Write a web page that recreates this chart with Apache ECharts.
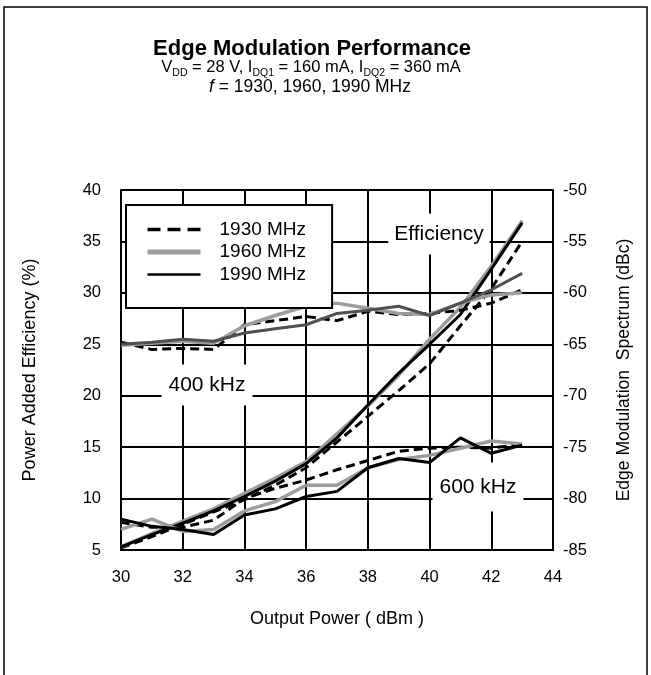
<!DOCTYPE html>
<html>
<head>
<meta charset="utf-8">
<script src="https://cdn.jsdelivr.net/npm/echarts@6/dist/echarts.min.js"></script>
<style>
html,body{margin:0;padding:0;background:#fff;}
#chart{width:651px;height:675px;}
</style>
</head>
<body>
<div id="chart"></div>
<script>
// ---- data ----
const outputPower = [30, 31, 32, 33, 34, 35, 36, 37, 38, 39, 40, 41, 42, 43];
const frequencies = ['1930 MHz', '1960 MHz', '1990 MHz'];
// Power Added Efficiency (%)
const eff1930 = [5.2, 6.3, 7.5, 8.7, 9.9, 11.3, 13.0, 15.5, 18.0, 20.5, 23.1, 26.8, 30.4, 35.0];
const eff1960 = [5.3, 6.6, 7.8, 9.0, 10.5, 12.0, 13.6, 16.3, 19.0, 22.0, 25.5, 28.6, 32.6, 37.0];
const eff1990 = [5.3, 6.5, 7.6, 8.8, 10.2, 11.7, 13.4, 15.9, 19.1, 22.2, 25.0, 27.9, 32.3, 36.8];
// Edge modulation spectrum, 400 kHz offset (dBc)
const s400_1930 = [-64.8, -65.5, -65.4, -65.5, -63.1, -62.7, -62.3, -62.7, -61.8, -62.1, -62.0, -61.7, -61.0, -59.7];
const s400_1960 = [-65.1, -64.9, -64.7, -64.9, -63.2, -62.2, -61.3, -61.0, -61.5, -62.0, -62.1, -61.0, -60.2, -60.0];
const s400_1990 = [-65.0, -64.8, -64.5, -64.7, -63.9, -63.5, -63.1, -62.0, -61.7, -61.3, -62.2, -61.0, -59.7, -58.1];
// Edge modulation spectrum, 600 kHz offset (dBc)
const s600_1930 = [-82.3, -82.8, -82.8, -82.1, -80.0, -79.0, -78.2, -77.2, -76.3, -75.4, -75.1, -75.0, -75.1, -74.7];
const s600_1960 = [-83.0, -82.0, -83.2, -83.0, -81.2, -80.3, -78.7, -78.7, -77.0, -76.2, -75.8, -75.1, -74.4, -74.7];
const s600_1990 = [-82.0, -82.7, -83.0, -83.5, -81.6, -81.0, -79.8, -79.3, -77.0, -76.1, -76.5, -74.1, -75.6, -74.8];

const xTickMin = 30, xTickMax = 44, xTickStep = 2;
const leftMin = 5, leftMax = 40, leftStep = 5;
const rightMin = -85, rightMax = -50, rightStep = 5;

// ---- chart ----
const pairs = (vals) => outputPower.map((x, i) => [x, vals[i]]);
const FONT = '"Liberation Sans", Arial, sans-serif';
const styles = {
  '1930 MHz': { color: '#000000', width: 3, type: [9, 5] },
  '1960 MHz': { color: '#9c9c9c', width: 3.5, type: 'solid' },
  '1990 MHz': { color: '#000000', width: 3, type: 'solid' }
};
function mk(name, vals, axis, override) {
  const ls = Object.assign({}, styles[name], override || {});
  return {
    name: name, type: 'line', yAxisIndex: axis, data: pairs(vals),
    symbol: 'none', smooth: false, silent: true, animation: false,
    lineStyle: { color: ls.color, width: ls.width, type: ls.type },
    itemStyle: { color: ls.color }
  };
}

const chart = echarts.init(document.getElementById('chart'), null, { renderer: 'canvas' });
chart.setOption({
  animation: false,
  backgroundColor: '#ffffff',
  textStyle: { fontFamily: FONT },
  title: [
    { text: 'Edge Modulation Performance', left: 307, top: 33, textAlign: 'center',
      textStyle: { fontFamily: FONT, fontSize: 22, fontWeight: 'bold', color: '#000' } },
    { text: '{n|V}{s|DD}{n| = 28 V, I}{s|DQ1}{n| = 160 mA, I}{s|DQ2}{n| = 360 mA}', left: 306, top: 54, textAlign: 'center',
      textStyle: { fontFamily: FONT, fontSize: 16.5, color: '#000', fontWeight: 'normal',
        rich: {
          n: { fontFamily: FONT, fontSize: 16.5, color: '#000', lineHeight: 20, verticalAlign: 'top' },
          s: { fontFamily: FONT, fontSize: 10.5, color: '#000', lineHeight: 20, padding: [9, 0, 0, 0], verticalAlign: 'top' }
        } } },
    { text: '{i|f}{n| = 1930, 1960, 1990 MHz}', left: 305, top: 73, textAlign: 'center',
      textStyle: { fontFamily: FONT, fontSize: 17.5, color: '#000', fontWeight: 'normal',
        rich: {
          n: { fontFamily: FONT, fontSize: 17.5, color: '#000' },
          i: { fontFamily: FONT, fontSize: 17.5, color: '#000', fontStyle: 'italic' }
        } } }
  ],
  legend: {
    data: [
      { name: frequencies[0], lineStyle: { type: [13, 7], width: 3.5 } },
      { name: frequencies[1], lineStyle: { width: 5 } },
      { name: frequencies[2], lineStyle: { width: 2.5 } }
    ],
    orient: 'vertical', left: 126, top: 205,
    backgroundColor: '#ffffff', borderColor: '#000', borderWidth: 2,
    padding: [15, 26, 24, 19],
    itemWidth: 53, itemHeight: 16, itemGap: 3.5,
    itemStyle: { opacity: 0 },
    textStyle: { fontFamily: FONT, fontSize: 19, lineHeight: 16, color: '#000', padding: [0, 0, 0, 14] },
    selectedMode: false
  },
  grid: { left: 121, top: 190, width: 432, height: 360, containLabel: false },
  xAxis: {
    type: 'value', min: xTickMin, max: xTickMax, interval: xTickStep,
    name: 'Output Power ( dBm )', nameLocation: 'middle', nameGap: 60,
    nameTextStyle: { fontFamily: FONT, fontSize: 18, color: '#000' },
    axisLine: { lineStyle: { color: '#000', width: 2 } },
    axisTick: { show: false },
    axisLabel: { fontFamily: FONT, fontSize: 16.5, color: '#000', margin: 19 },
    splitLine: { show: true, lineStyle: { color: '#000', width: 2 } }
  },
  yAxis: [
    { type: 'value', min: leftMin, max: leftMax, interval: leftStep, position: 'left',
      name: 'Power Added Efficiency (%)', nameLocation: 'middle', nameGap: 82, nameRotate: 90,
      nameTextStyle: { fontFamily: FONT, fontSize: 18, color: '#000' },
      axisLine: { show: true, lineStyle: { color: '#000', width: 2 } },
      axisTick: { show: false },
      axisLabel: { fontFamily: FONT, fontSize: 16.5, color: '#000', margin: 20 },
      splitLine: { show: true, lineStyle: { color: '#000', width: 2 } } },
    { type: 'value', min: rightMin, max: rightMax, interval: rightStep, position: 'right',
      name: 'Edge Modulation  Spectrum (dBc)', nameLocation: 'middle', nameGap: 62, nameRotate: 90,
      nameTextStyle: { fontFamily: FONT, fontSize: 17.5, color: '#000' },
      axisLine: { show: true, lineStyle: { color: '#000', width: 2 } },
      axisTick: { show: false },
      axisLabel: { fontFamily: FONT, fontSize: 16.5, color: '#000', margin: 10 },
      splitLine: { show: false } }
  ],
  series: [
    mk('1930 MHz', eff1930, 0),
    mk('1960 MHz', eff1960, 0),
    mk('1990 MHz', eff1990, 0),
    mk('1930 MHz', s400_1930, 1),
    mk('1960 MHz', s400_1960, 1),
    mk('1990 MHz', s400_1990, 1, { color: '#505050' }),
    mk('1930 MHz', s600_1930, 1),
    mk('1960 MHz', s600_1960, 1),
    mk('1990 MHz', s600_1990, 1)
  ],
  graphic: [
    { type: 'rect', silent: true, z: 100, shape: { x: 4, y: 7, width: 643, height: 700 },
      style: { fill: 'none', stroke: '#000', lineWidth: 1.5 } },
    { type: 'text', silent: true, z: 50, x: 439, y: 234,
      style: { text: 'Efficiency', fontFamily: FONT, fontSize: 21, fill: '#000', align: 'center', verticalAlign: 'middle',
        backgroundColor: '#fff', padding: [10, 6, 10, 6] } },
    { type: 'text', silent: true, z: 50, x: 207, y: 385,
      style: { text: '400 kHz', fontFamily: FONT, fontSize: 21, fill: '#000', align: 'center', verticalAlign: 'middle',
        backgroundColor: '#fff', padding: [10, 7, 10, 7] } },
    { type: 'text', silent: true, z: 50, x: 478, y: 487,
      style: { text: '600 kHz', fontFamily: FONT, fontSize: 21, fill: '#000', align: 'center', verticalAlign: 'middle',
        backgroundColor: '#fff', padding: [14, 7, 14, 7] } }
  ]
});
</script>
</body>
</html>
